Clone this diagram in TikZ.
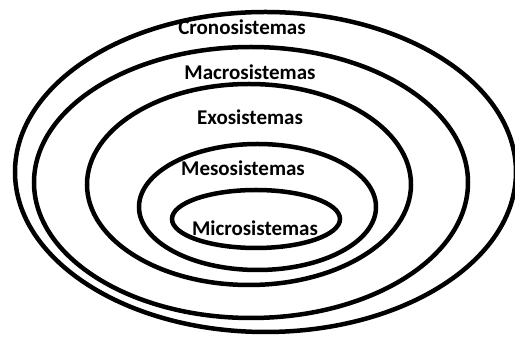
\documentclass[tikz,border=0pt]{standalone}
\usepackage{fontspec}
\setmainfont{Carlito}
\usetikzlibrary{positioning}

\begin{document}
\begin{tikzpicture}[x=1pt,y=1pt,ring/.style={line width=4.5pt},lbl/.style={font=\fontsize{21}{25}\selectfont\bfseries,inner sep=0pt}]
\useasboundingbox (0,0) rectangle (515,337);
\draw[ring] (265.5,165) ellipse [x radius=250.5,y radius=160];
\draw[ring] (251,154.5) ellipse [x radius=217,y radius=135.5];
\draw[ring] (249,152.5) ellipse [x radius=162,y radius=100.5];
\draw[ring] (257.5,130) ellipse [x radius=118.5,y radius=63];
\draw[ring] (256,118) ellipse [x radius=84,y radius=29];
\node[lbl] (crono) at (242,310) {Cronosistemas};
\node[lbl] (macro) at (250,265) {Macrosistemas};
\node[lbl] (exo) at (250,220) {Exosistemas};
\node[lbl] (meso) at (243,169) {Mesosistemas};
\node[lbl] (micro) at (255,109) {Microsistemas};
\end{tikzpicture}
\end{document}
